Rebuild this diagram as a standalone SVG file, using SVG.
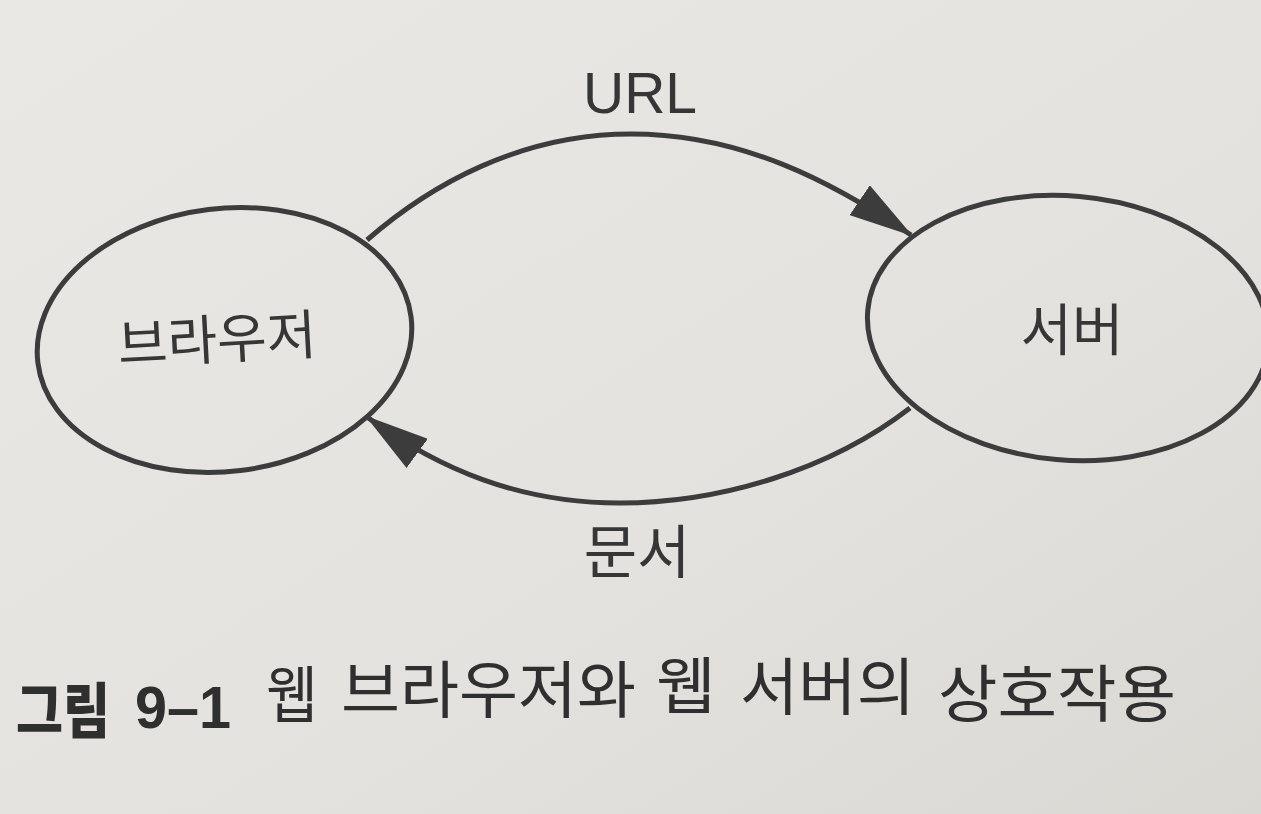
<svg xmlns="http://www.w3.org/2000/svg" width="1261" height="814" viewBox="0 0 1261 814">
  <defs>
    <linearGradient id="paper" x1="0" y1="0" x2="1" y2="1">
      <stop offset="0" stop-color="#e9e8e4"/>
      <stop offset="0.6" stop-color="#e3e2de"/>
      <stop offset="1" stop-color="#d9d8d3"/>
    </linearGradient>
    <marker id="arrow" markerUnits="userSpaceOnUse" viewBox="0 0 64 36" markerWidth="64" markerHeight="36" refX="62" refY="18" orient="auto">
      <path d="M0,0 L64,18 L0,36 Z" fill="#3c3c3c"/>
    </marker>
    <style>
      .node { fill: none; stroke: #3c3c3c; stroke-width: 5; }
      .edge { fill: none; stroke: #3c3c3c; stroke-width: 5; marker-end: url(#arrow); }
      .label { font-family: "Noto Sans CJK KR", "Noto Sans", sans-serif; fill: #363636; }
      .latin { font-family: "Liberation Sans", Arial, sans-serif; fill: #363636; }
      .cap { font-family: "Noto Sans CJK KR", sans-serif; fill: #2f2f2f; font-size: 62px; }
      .capb { font-family: "Noto Sans CJK KR", sans-serif; fill: #2f2f2f; font-size: 60px; font-weight: 900; }
      .capn { font-family: "Liberation Sans", Arial, sans-serif; font-weight: 700; }
    </style>
  </defs>
  <rect x="0" y="0" width="1261" height="814" fill="url(#paper)"/>

  <g id="connectors">
    <path class="edge" d="M367,240 C430,185 520,134 631,134 C740,134 830,180 911,235"/>
    <path class="edge" d="M910,408 C830,470 720,503 620,503 C520,503 440,470 367,417"/>
    <text class="latin" x="640" y="113" font-size="57" text-anchor="middle">URL</text>
    <text class="label" x="637" y="573" font-size="58" text-anchor="middle">문서</text>
  </g>

  <g id="browser">
    <ellipse class="node" cx="224.5" cy="340" rx="188" ry="131.5" transform="rotate(-7 224.5 340)"/>
    <text class="label" x="217" y="359" font-size="54" text-anchor="middle" transform="rotate(-3 217 339)">브라우저</text>
  </g>

  <g id="server">
    <ellipse class="node" cx="1068" cy="328" rx="201" ry="132" transform="rotate(5 1068 328)"/>
    <text class="label" x="1072" y="350" font-size="56" text-anchor="middle">서버</text>
  </g>

  <g id="caption">
    <text class="capb"><tspan x="16" y="733" textLength="94" lengthAdjust="spacingAndGlyphs">그림</tspan><tspan class="capn" x="135" y="728" textLength="96" lengthAdjust="spacingAndGlyphs">9–1</tspan></text>
    <text class="cap"><tspan x="266" y="718" textLength="52" lengthAdjust="spacingAndGlyphs">웹</tspan><tspan x="341" y="713" textLength="295" lengthAdjust="spacingAndGlyphs">브라우저와</tspan><tspan x="656" y="709" textLength="60" lengthAdjust="spacingAndGlyphs">웹</tspan><tspan x="740" y="710" textLength="175" lengthAdjust="spacingAndGlyphs">서버의</tspan><tspan x="938" y="717" textLength="238" lengthAdjust="spacingAndGlyphs">상호작용</tspan></text>
  </g>
</svg>
